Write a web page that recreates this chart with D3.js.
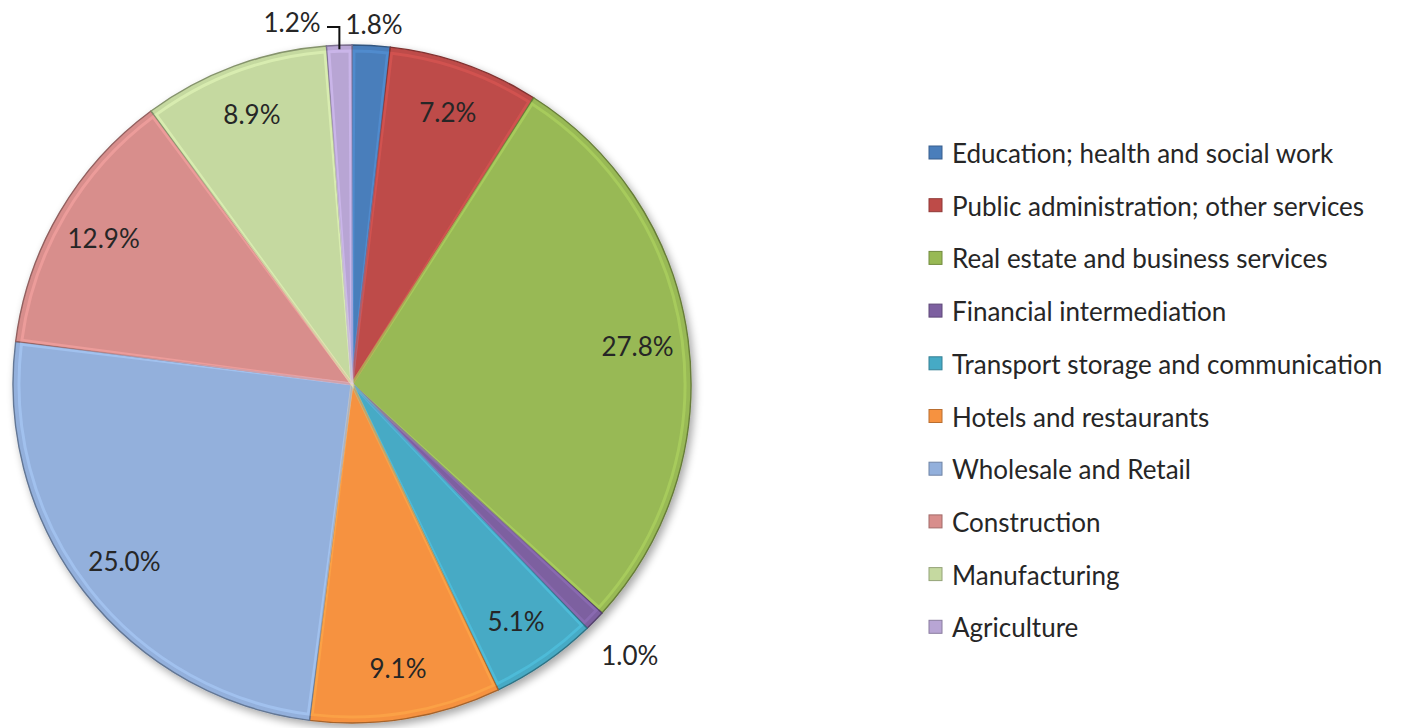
<!DOCTYPE html>
<html><head><meta charset="utf-8">
<script src="https://cdn.jsdelivr.net/npm/d3@7/dist/d3.min.js"></script>
<style>body{margin:0;background:#fff;} svg{display:block;}</style>
</head><body>
<svg id="chart" width="1420" height="728"></svg>
<script>
const categories = ["Education; health and social work","Public administration; other services","Real estate and business services","Financial intermediation","Transport storage and communication","Hotels and restaurants","Wholesale and Retail","Construction","Manufacturing","Agriculture"];
const values = [1.8, 7.2, 27.8, 1.0, 5.1, 9.1, 25.0, 12.9, 8.9, 1.2];
const labels = ["1.8%","7.2%","27.8%","1.0%","5.1%","9.1%","25.0%","12.9%","8.9%","1.2%"];
const colors = ["#4a7ebb","#be4b48","#98b954","#7d60a0","#46aac5","#f69240","#93b0dc","#d88e8c","#c5d9a0","#b8a5d4"];

const svg = d3.select("#chart");
const cx = 352, cy = 384, R = 339;
const FONT = "Lato, 'Open Sans', sans-serif";

const defs = svg.append("defs");
const f = defs.append("filter").attr("id","shadow").attr("x","-10%").attr("y","-10%").attr("width","130%").attr("height","130%");
f.append("feGaussianBlur").attr("in","SourceAlpha").attr("stdDeviation",4);
f.append("feOffset").attr("dx",3).attr("dy",4).attr("result","ob");
f.append("feComponentTransfer").append("feFuncA").attr("type","linear").attr("slope",0.35);
const fm = f.append("feMerge"); fm.append("feMergeNode"); fm.append("feMergeNode").attr("in","SourceGraphic");

const pie = d3.pie().sort(null).value(d => d)(values);
const arc = d3.arc().innerRadius(0).outerRadius(R);
const arcInner = d3.arc().innerRadius(0).outerRadius(R - 6);

const g = svg.append("g").attr("transform",`translate(${cx},${cy})`);
const sl = g.append("g").attr("filter","url(#shadow)");
sl.selectAll("path.s").data(pie).join("path").attr("class","s")
  .attr("d", arc)
  .attr("fill",(d,i)=>colors[i])
  .attr("stroke",(d,i)=>d3.color(colors[i]).darker(1.1))
  .attr("stroke-width",1.4);
// bevel highlight
g.selectAll("path.b").data(pie).join("path").attr("class","b")
  .attr("d", d => arcInner({startAngle:d.startAngle+0.006,endAngle:d.endAngle-0.006}))
  .attr("fill","none")
  .attr("stroke",(d,i)=>d3.color(colors[i]).brighter(0.5))
  .attr("stroke-opacity",0.5)
  .attr("stroke-width",3);

// labels
const inR = 288;
const outR = 365;
g.selectAll("text.l").data(pie).join("text").attr("class","l")
  .attr("font-family",FONT).attr("font-size",26).attr("fill","#262626")
  .attr("text-anchor","middle").attr("dominant-baseline","central")
  .attr("transform",(d,i)=>{
    const a = (d.startAngle+d.endAngle)/2;
    let r = values[i] < 2 ? outR : inR;
    if (i === 3) r = 388;
    let x = Math.sin(a)*r, y = -Math.cos(a)*r;
    if (i === 9) { x = -60; y = -362; }
    if (i === 0) { x = 22; y = -360; }
    return `translate(${x},${y})`;
  })
  .text((d,i)=>labels[i]);

// leader line for Agriculture
const ag = pie[9];
const agA = (ag.startAngle+ag.endAngle)/2;
const ax = Math.sin(agA)*(R-4), ay = -Math.cos(agA)*(R-4);
g.append("path")
  .attr("d",`M${ax},${ay}V${-357}H${-25}`)
  .attr("fill","none").attr("stroke","#111").attr("stroke-width",2);

// legend
const lg = svg.append("g").attr("transform","translate(929,153)");
const rows = lg.selectAll("g").data(categories).join("g")
  .attr("transform",(d,i)=>`translate(0,${i*52.7})`);
rows.append("rect").attr("x",0).attr("y",-7).attr("width",13).attr("height",13)
  .attr("fill",(d,i)=>colors[i]).attr("stroke",(d,i)=>d3.color(colors[i]).darker(0.8)).attr("stroke-width",1);
rows.append("text").attr("x",23).attr("y",0).attr("dominant-baseline","central")
  .attr("font-family",FONT).attr("font-size",26).attr("fill","#262626")
  .text(d=>d);
</script>
</body></html>
